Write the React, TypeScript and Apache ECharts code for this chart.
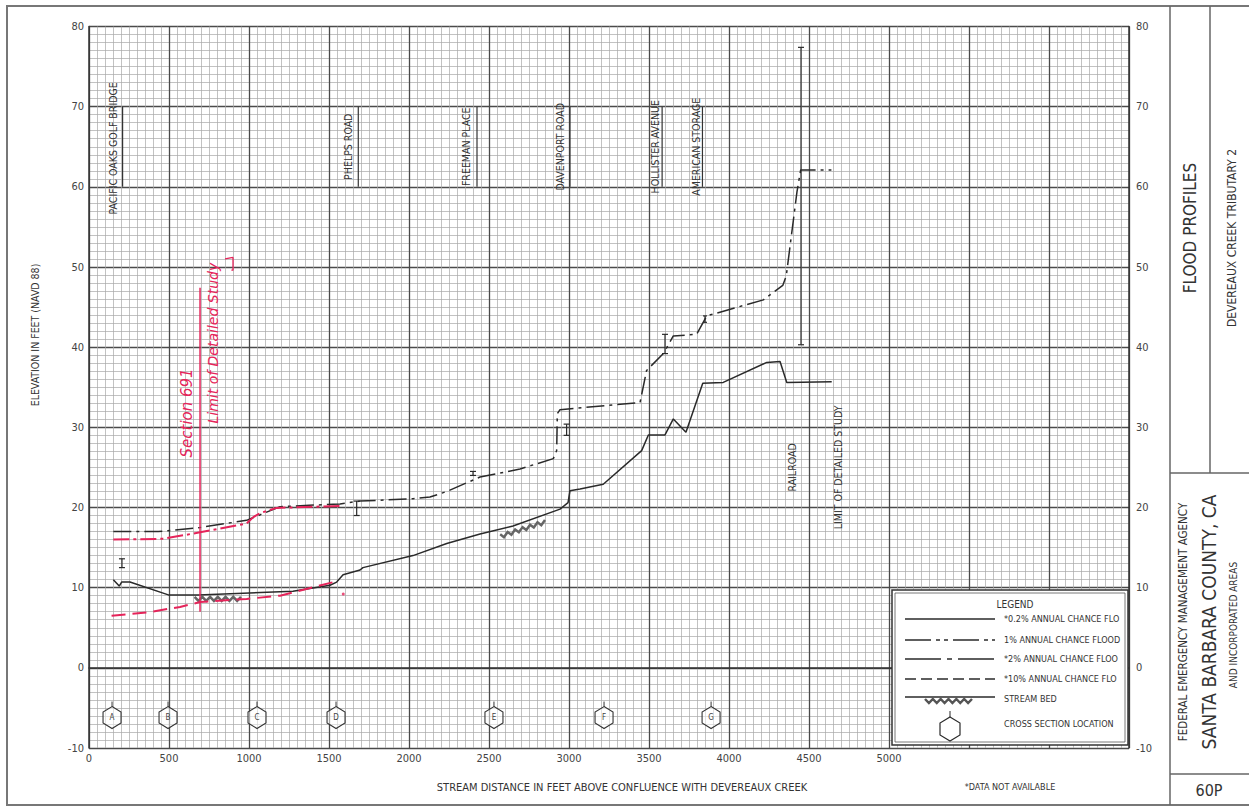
import React, { useEffect, useRef } from "react";
import * as echarts from "echarts";

const FONT = '"Liberation Sans Narrow", "DejaVu Sans Condensed", "Roboto Condensed", "Liberation Sans", sans-serif';

// Stream bed profile [feet, elevation]
const streamBed: number[][] = [
  [152, 11.0], [189, 10.2], [204, 10.7], [256, 10.7], [496, 9.1], [683, 9.1], [1275, 9.55],
  [1506, 10.3], [1548, 10.7], [1588, 11.6], [1694, 12.2], [1712, 12.5], [2025, 14.0],
  [2236, 15.5], [2444, 16.7], [2650, 17.7], [2944, 19.8], [2994, 20.6], [3006, 22.1],
  [3069, 22.3], [3214, 22.9], [3454, 27.1], [3496, 29.05], [3600, 29.05], [3652, 31.05],
  [3731, 29.4], [3836, 35.5], [3964, 35.6], [4236, 38.1], [4319, 38.2], [4361, 35.6], [4642, 35.7],
];

// 1% annual chance flood profile
const flood1pct: number[][] = [
  [152, 17.0], [433, 17.0], [694, 17.5], [985, 18.4], [1194, 20.1], [1569, 20.45], [1694, 20.8],
  [2025, 21.1], [2131, 21.3], [2236, 22.0], [2444, 23.8], [2694, 24.8], [2902, 26.1],
  [2923, 27.1], [2927, 31.7], [2944, 32.2], [3444, 33.1], [3485, 37.1], [3590, 39.2],
  [3652, 41.4], [3798, 41.6], [3861, 43.9], [4215, 45.9], [4336, 47.7], [4358, 48.9],
  [4425, 59.4], [4448, 62.1], [4640, 62.1],
];

// Red hand-drawn annotations
const redDashDot: number[][] = [
  [152, 16.0], [465, 16.1], [694, 16.9], [985, 18.0], [1027, 18.8], [1069, 19.3], [1173, 19.95], [1569, 20.2],
];
const redDashed: number[][] = [
  [141, 6.5], [360, 6.9], [569, 7.6], [694, 8.2], [985, 8.6], [1194, 9.0], [1402, 10.05], [1548, 10.8],
];
const redSectionLine: number[][] = [[694, 47.4], [694, 7.0]];
const redBracket: number[][] = [[850, 51.0], [900, 51.2], [900, 49.6], [890, 49.6]];
const redDot: number[][] = [[1589, 9.2]];
const redNotes: (string | number)[][] = [
  ["Section 691", 612, 31.8, 15],
  ["Limit of Detailed Study", 778, 40.5, 14],
];

// Bridge/structure "I" markers [feet, low, high, capHalfWidthPx]
const structureMarks: number[][] = [
  [206, 12.5, 13.6, 3], [1673, 19.0, 20.8, 3], [2400, 24.0, 24.5, 3], [2985, 29.0, 30.4, 3],
  [3600, 39.2, 41.6, 3], [3850, 43.1, 43.9, 2], [4450, 40.3, 77.4, 3],
];
// Road label bracket lines [feet, low, high, cap]
const roadBrackets: number[][] = [
  [210, 60, 70, 0], [1683, 60, 70, 0], [2425, 60, 70, 0], [3006, 60, 70, 0], [3582, 60, 70, 0], [3834, 60, 70, 0],
];
// Road labels [text, feet, elevation]
const roadLabels: (string | number)[][] = [
  ["PACIFIC OAKS GOLF BRIDGE", 150, 64.8],
  ["PHELPS ROAD", 1619, 65.0],
  ["FREEMAN PLACE", 2356, 65.0],
  ["DAVENPORT ROAD", 2944, 65.0],
  ["HOLLISTER AVENUE", 3537, 65.0],
  ["AMERICAN STORAGE", 3792, 65.0],
  ["RAILROAD", 4394, 25.0],
  ["LIMIT OF DETAILED STUDY", 4681, 25.0],
];
// Stream bed hatch symbols [x0, y0, x1, y1]
const bedHatches: number[][] = [
  [660, 8.6, 950, 8.6],
  [2570, 16.4, 2850, 18.2],
];
// Cross sections
const crossSectionLetters = ["A", "B", "C", "D", "E", "F", "G"];
const crossSectionFeet = [144, 494, 1050, 1544, 2531, 3219, 3888];
const crossSectionElev = -6.2;

const xTicksMax = 5000;

function zigzag(x0: number, y0: number, x1: number, y1: number, step: number, amp: number) {
  const pts: number[][] = [];
  const len = Math.hypot(x1 - x0, y1 - y0);
  const n = Math.max(2, Math.round(len / step));
  for (let i = 0; i <= n; i++) {
    const t = i / n;
    const off = i % 2 === 0 ? -amp : amp;
    pts.push([x0 + (x1 - x0) * t, y0 + (y1 - y0) * t + off]);
  }
  return pts;
}

function hexPoints(cx: number, cy: number, w: number, h: number) {
  return [
    [cx, cy - h], [cx + w, cy - h / 2], [cx + w, cy + h / 2],
    [cx, cy + h], [cx - w, cy + h / 2], [cx - w, cy - h / 2],
  ];
}

export default function App() {
  const ref = useRef<HTMLDivElement>(null);
  useEffect(() => {
    document.body.style.margin = "0";
    if (!ref.current) return;
    const chart = echarts.init(ref.current, null, { renderer: "svg" });

    const ink = "#2a2a2a";
    const red = "#e5245a";

    const legendRows = [
      { y: 619, text: "*0.2% ANNUAL CHANCE FLOOD", dash: null as any },
      { y: 640, text: "1% ANNUAL CHANCE FLOOD", dash: [26, 5, 4, 4, 4, 5] },
      { y: 659, text: "*2% ANNUAL CHANCE FLOOD", dash: [36, 6, 5, 6] },
      { y: 679, text: "*10% ANNUAL CHANCE FLOOD", dash: [11, 5] },
      { y: 697, text: "STREAM BED", dash: null as any },
    ];

    const graphic: any[] = [
      // outer frame
      { type: "rect", shape: { x: 7, y: 6, width: 1260, height: 799 }, style: { fill: "none", stroke: "#777", lineWidth: 2 }, silent: true },
      { type: "line", shape: { x1: 1170, y1: 6, x2: 1170, y2: 805 }, style: { stroke: "#666", lineWidth: 1.5 } },
      { type: "line", shape: { x1: 1210, y1: 6, x2: 1210, y2: 473 }, style: { stroke: "#666", lineWidth: 1.5 } },
      { type: "line", shape: { x1: 1170, y1: 473, x2: 1249, y2: 473 }, style: { stroke: "#666", lineWidth: 1.5 } },
      { type: "line", shape: { x1: 1170, y1: 774, x2: 1249, y2: 774 }, style: { stroke: "#666", lineWidth: 1.5 } },
      // title block
      { type: "text", x: 1190, y: 228, rotation: Math.PI / 2, style: { text: "FLOOD PROFILES", font: `17px ${FONT}`, fill: "#333", align: "center", verticalAlign: "middle" } },
      { type: "text", x: 1232, y: 238, rotation: Math.PI / 2, style: { text: "DEVEREAUX CREEK TRIBUTARY 2", font: `12px ${FONT}`, fill: "#333", align: "center", verticalAlign: "middle" } },
      { type: "text", x: 1183, y: 622, rotation: Math.PI / 2, style: { text: "FEDERAL EMERGENCY MANAGEMENT AGENCY", font: `11.5px ${FONT}`, fill: "#333", align: "center", verticalAlign: "middle" } },
      { type: "text", x: 1209, y: 622, rotation: Math.PI / 2, style: { text: "SANTA BARBARA COUNTY, CA", font: `19px ${FONT}`, fill: "#333", align: "center", verticalAlign: "middle" } },
      { type: "text", x: 1233, y: 625, rotation: Math.PI / 2, style: { text: "AND INCORPORATED AREAS", font: `10px ${FONT}`, fill: "#333", align: "center", verticalAlign: "middle" } },
      { type: "text", x: 1209, y: 790, style: { text: "60P", font: `16px ${FONT}`, fill: "#333", align: "center", verticalAlign: "middle" } },
      // axis titles
      { type: "text", x: 35, y: 335, rotation: Math.PI / 2, style: { text: "ELEVATION IN FEET (NAVD 88)", font: `10.5px ${FONT}`, fill: "#333", align: "center", verticalAlign: "middle" } },
      { type: "text", x: 622, y: 787, style: { text: "STREAM DISTANCE IN FEET ABOVE CONFLUENCE WITH DEVEREAUX CREEK", font: `11px ${FONT}`, fill: "#333", align: "center", verticalAlign: "middle" } },
      { type: "text", x: 1010, y: 787, style: { text: "*DATA NOT AVAILABLE", font: `9px ${FONT}`, fill: "#333", align: "center", verticalAlign: "middle" } },
      // legend box
      { type: "rect", z: 10, shape: { x: 892, y: 590, width: 236, height: 155 }, style: { fill: "#fff", stroke: "#333", lineWidth: 1.5 } },
      { type: "rect", z: 10, shape: { x: 895, y: 593, width: 230, height: 149 }, style: { fill: "none", stroke: "#555", lineWidth: 0.8 } },
      { type: "text", z: 11, x: 1015, y: 604, style: { text: "LEGEND", font: `10px ${FONT}`, fill: "#333", align: "center", verticalAlign: "middle" } },
    ];
    legendRows.forEach((r) => {
      graphic.push({ type: "line", z: 11, shape: { x1: 905, y1: r.y, x2: 995, y2: r.y }, style: { stroke: ink, lineWidth: 1.5, lineDash: r.dash || undefined } });
      graphic.push({
        type: "text", z: 11, x: 1004, y: r.y + (r.text === "STREAM BED" ? 2 : 0),
        style: { text: r.text, font: `9px ${FONT}`, fill: "#333", align: "left", verticalAlign: "middle", width: 121, overflow: "truncate", ellipsis: "" },
      });
    });
    graphic.push({ type: "polyline", z: 11, shape: { points: zigzag(925, 701, 972, 701, 4, 2) }, style: { stroke: "#555", lineWidth: 2.5, fill: "none" } });
    graphic.push({ type: "polygon", z: 11, shape: { points: hexPoints(950, 729, 10, 12) }, style: { fill: "none", stroke: ink, lineWidth: 1.2 } });
    graphic.push({ type: "line", z: 11, shape: { x1: 950, y1: 711, x2: 950, y2: 717 }, style: { stroke: ink, lineWidth: 1 } });
    graphic.push({ type: "text", z: 11, x: 1004, y: 724, style: { text: "CROSS SECTION LOCATION", font: `9px ${FONT}`, fill: "#333", align: "left", verticalAlign: "middle" } });

    const vMarkSeries = (data: number[][], color: string, width: number) => ({
      type: "custom",
      silent: true,
      z: 4,
      data,
      renderItem: (params: any, api: any) => {
        const x = api.value(0);
        const a = api.coord([x, api.value(1)]);
        const b = api.coord([x, api.value(2)]);
        const cap = api.value(3);
        const children: any[] = [
          { type: "line", shape: { x1: a[0], y1: a[1], x2: b[0], y2: b[1] }, style: { stroke: color, lineWidth: width } },
        ];
        if (cap > 0) {
          children.push({ type: "line", shape: { x1: a[0] - cap, y1: a[1], x2: a[0] + cap, y2: a[1] }, style: { stroke: color, lineWidth: width } });
          children.push({ type: "line", shape: { x1: b[0] - cap, y1: b[1], x2: b[0] + cap, y2: b[1] }, style: { stroke: color, lineWidth: width } });
        }
        return { type: "group", children };
      },
    });

    const textSeries = (data: (string | number)[][], color: string, size: number, italic: boolean) => ({
      type: "custom",
      silent: true,
      z: 5,
      data: data.map((d) => [d[1], d[2], d[3] ?? size]),
      renderItem: (params: any, api: any) => {
        const p = api.coord([api.value(0), api.value(1)]);
        const fs = api.value(2);
        return {
          type: "text",
          x: p[0],
          y: p[1],
          rotation: Math.PI / 2,
          style: {
            text: String(data[params.dataIndex][0]),
            font: `${italic ? "italic " : ""}${fs}px ${italic ? '"DejaVu Sans", sans-serif' : FONT}`,
            fill: color,
            align: "center",
            verticalAlign: "middle",
          },
        };
      },
    });

    const option: any = {
      animation: false,
      backgroundColor: "#fff",
      grid: { left: 89, top: 26.5, width: 1040, height: 721.5, containLabel: false },
      xAxis: {
        type: "value",
        min: 0,
        max: 6500,
        interval: 500,
        axisLine: { show: true, lineStyle: { color: "#333", width: 1.5 } },
        axisTick: { show: false },
        axisLabel: {
          margin: 5,
          color: "#444",
          fontFamily: FONT,
          fontSize: 11,
          formatter: (v: number) => (v <= xTicksMax ? String(v) : ""),
        },
        splitLine: { show: true, lineStyle: { color: "#4a4a4a", width: 1.3 } },
        minorTick: { show: false, splitNumber: 10 },
        minorSplitLine: { show: true, lineStyle: { color: "#a8a8a8", width: 0.7 } },
      },
      yAxis: [
        {
          type: "value",
          min: -10,
          max: 80,
          interval: 10,
          position: "left",
          axisLine: { show: true, lineStyle: { color: "#333", width: 1.5 } },
          axisTick: { show: false },
          axisLabel: { margin: 5, color: "#444", fontFamily: FONT, fontSize: 11 },
          splitLine: { show: true, lineStyle: { color: "#4a4a4a", width: 1.3 } },
          minorTick: { show: false, splitNumber: 10 },
          minorSplitLine: { show: true, lineStyle: { color: "#a8a8a8", width: 0.7 } },
        },
        {
          type: "value",
          min: -10,
          max: 80,
          interval: 10,
          position: "right",
          axisLine: { show: true, lineStyle: { color: "#333", width: 1.5 } },
          axisTick: { show: false },
          axisLabel: { margin: 7, color: "#444", fontFamily: FONT, fontSize: 11 },
          splitLine: { show: false },
        },
      ],
      series: [
        {
          name: "Stream bed",
          type: "line",
          data: streamBed,
          symbol: "none",
          z: 3,
          lineStyle: { color: ink, width: 1.5 },
        },
        {
          name: "1% annual chance flood",
          type: "line",
          data: flood1pct,
          symbol: "none",
          z: 3,
          lineStyle: { color: ink, width: 1.5, type: [18, 5, 3, 5] },
        },
        {
          name: "Red dash-dot",
          type: "line",
          data: redDashDot,
          symbol: "none",
          z: 4,
          lineStyle: { color: red, width: 2, type: [16, 4, 3, 4] },
        },
        {
          name: "Red dashed",
          type: "line",
          data: redDashed,
          symbol: "none",
          z: 4,
          lineStyle: { color: red, width: 2, type: [14, 7] },
        },
        {
          name: "Section line",
          type: "line",
          data: redSectionLine,
          symbol: "none",
          z: 4,
          lineStyle: { color: red, width: 1.5 },
        },
        {
          name: "Note bracket",
          type: "line",
          data: redBracket,
          symbol: "none",
          z: 4,
          lineStyle: { color: red, width: 1.3 },
        },
        {
          name: "Red dot",
          type: "scatter",
          data: redDot,
          symbolSize: 3,
          itemStyle: { color: red },
          z: 4,
        },
        vMarkSeries(structureMarks, ink, 1.2),
        vMarkSeries(roadBrackets, "#333", 1.2),
        textSeries(roadLabels, "#333", 10.5, false),
        textSeries(redNotes, red, 14, true),
        {
          type: "custom",
          silent: true,
          z: 4,
          data: bedHatches,
          renderItem: (params: any, api: any) => {
            const a = api.coord([api.value(0), api.value(1)]);
            const b = api.coord([api.value(2), api.value(3)]);
            return {
              type: "polyline",
              shape: { points: zigzag(a[0], a[1], b[0], b[1], 4, 2) },
              style: { stroke: "#666", lineWidth: 2.5, fill: "none" },
            };
          },
        },
        {
          type: "custom",
          silent: true,
          z: 4,
          data: crossSectionFeet.map((f) => [f, crossSectionElev]),
          renderItem: (params: any, api: any) => {
            const p = api.coord([api.value(0), api.value(1)]);
            const w = 9, h = 11;
            return {
              type: "group",
              children: [
                { type: "polygon", shape: { points: hexPoints(p[0], p[1], w, h) }, style: { fill: "rgba(255,255,255,0.5)", stroke: "#333", lineWidth: 1.1 } },
                { type: "line", shape: { x1: p[0], y1: p[1] - h - 5, x2: p[0], y2: p[1] - h }, style: { stroke: "#333", lineWidth: 1 } },
                { type: "text", x: p[0], y: p[1], style: { text: crossSectionLetters[params.dataIndex], font: `8px ${FONT}`, fill: "#444", align: "center", verticalAlign: "middle" } },
              ],
            };
          },
        },
      ],
      graphic,
    };
    chart.setOption(option);
    return () => chart.dispose();
  }, []);
  return <div ref={ref} style={{ width: 1249, height: 809 }} />;
}
